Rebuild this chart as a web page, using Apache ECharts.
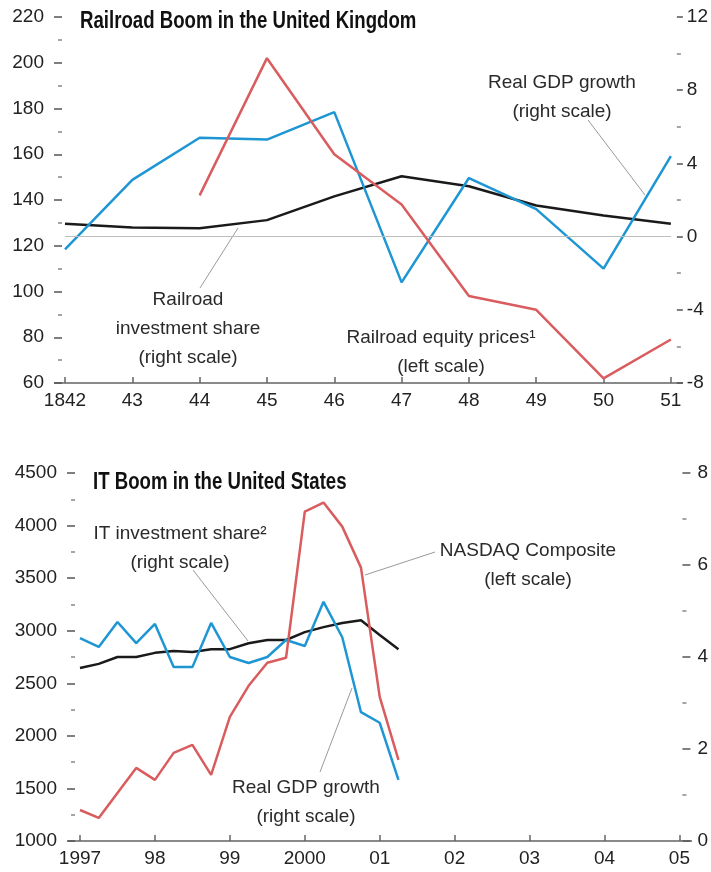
<!DOCTYPE html>
<html>
<head>
<meta charset="utf-8">
<script src="https://cdn.jsdelivr.net/npm/echarts@6/dist/echarts.min.js"></script>
<style>
html,body{margin:0;padding:0;background:#fff;}
#c{width:711px;height:872px;}
</style>
</head>
<body>
<div id="c"></div>
<script>
// ---- Top panel: Railroad boom in the UK ----
var railYears = [1842, 1843, 1844, 1845, 1846, 1847, 1848, 1849, 1850, 1851];
var railEquity = [null, null, 142, 202, 160, 138, 98, 92, 62, 79];         // left scale
var railInvestShare = [0.7, 0.5, 0.45, 0.9, 2.2, 3.3, 2.75, 1.7, 1.15, 0.7]; // right scale
var railGdp = [-0.7, 3.1, 5.4, 5.3, 6.8, -2.5, 3.2, 1.5, -1.75, 4.4];      // right scale

// ---- Bottom panel: IT boom in the US (quarterly) ----
var itQuarters = ['1997Q1','1997Q2','1997Q3','1997Q4','1998Q1','1998Q2','1998Q3','1998Q4',
                  '1999Q1','1999Q2','1999Q3','1999Q4','2000Q1','2000Q2','2000Q3','2000Q4',
                  '2001Q1','2001Q2'];
var nasdaq = [1295, 1219, 1457, 1695, 1581, 1838, 1914, 1629, 2181, 2476, 2695, 2743,
              4133, 4219, 3990, 3600, 2371, 1771];                                  // left scale
var itShare = [3.76, 3.85, 4.0, 4.0, 4.09, 4.13, 4.11, 4.17, 4.17, 4.30, 4.37, 4.37,
               4.54, 4.65, 4.74, 4.80, 4.48, 4.17];                                 // right scale
var usGdp = [4.41, 4.22, 4.76, 4.30, 4.72, 3.78, 3.78, 4.74, 4.0, 3.87, 4.0, 4.37,
             4.24, 5.2, 4.43, 2.8, 2.57, 1.33];                                     // right scale

// tick label lists
var topXLabels = {1842:'1842',1843:'43',1844:'44',1845:'45',1846:'46',1847:'47',1848:'48',1849:'49',1850:'50',1851:'51'};
var botXLabels = {1997:'1997',1998:'98',1999:'99',2000:'2000',2001:'01',2002:'02',2003:'03',2004:'04',2005:'05'};

function pairs(xs, ys){ return xs.map(function(x,i){ return [x, ys[i]]; }); }
function qToX(q){ return parseInt(q.slice(0,4),10) + (parseInt(q.slice(5),10)-1)/4; }
var itX = itQuarters.map(qToX);

var FONT = "'Liberation Sans', Arial, sans-serif";
var BLUE = '#1e96d4', RED = '#d95c5e', BLACK = '#1a1a1a';
function plain(v){ return String(v); }

function yAx(opt, labelMargin){
  return Object.assign({
    type:'value', axisLine:{show:false, onZero:false}, splitLine:{show:false},
    axisTick:{show:true, length:8, lineStyle:{color:'#555', width:1.5}},
    minorTick:{show:true, splitNumber:2, length:4, lineStyle:{color:'#888', width:1.5}},
    axisLabel:{color:'#222', fontSize:19, fontFamily:FONT, margin:labelMargin, formatter:plain}
  }, opt);
}
function xAx(opt, labels){
  return Object.assign({
    type:'value', interval:1, splitLine:{show:false},
    axisLine:{show:true, onZero:false, lineStyle:{color:'#8a8a8a', width:2}},
    axisTick:{show:true, inside:true, length:6, lineStyle:{color:'#666', width:1.5}},
    axisLabel:{color:'#222', fontSize:19, fontFamily:FONT, margin:8,
      formatter:function(v){ return labels[v] !== undefined ? labels[v] : ''; }}
  }, opt);
}

var chart = echarts.init(document.getElementById('c'), null, {renderer:'canvas'});
var annoStyle = {fill:'#2a2a2a', font:'19px ' + FONT, textAlign:'center', textVerticalAlign:'middle', lineHeight:29};
function anno(text, x, y){ return {type:'text', silent:true, style:Object.assign({text:text, x:x, y:y}, annoStyle)}; }
function leader(x1,y1,x2,y2){ return {type:'line', silent:true, shape:{x1:x1,y1:y1,x2:x2,y2:y2}, style:{stroke:'#9a9a9a', lineWidth:1}}; }
function axisExt(x1,x2,y){ return {type:'line', silent:true, z:-1, shape:{x1:x1,y1:y,x2:x2,y2:y}, style:{stroke:'#8a8a8a', lineWidth:2}}; }
function titleText(text, x, y){
  return {type:'text', silent:true, x:x, y:y, scaleX:0.81, scaleY:1,
    style:{text:text, x:0, y:0, textVerticalAlign:'middle', fill:'#111', font:"bold 23px 'Liberation Sans', Arial, sans-serif"}};
}

chart.setOption({
  animation:false,
  backgroundColor:'#fff',
  grid:[
    {left:65, top:17, width:607, height:366},
    {left:80, top:473, width:602, height:368}
  ],
  xAxis:[
    xAx({gridIndex:0, min:1842, max:1851}, topXLabels),
    xAx({gridIndex:1, min:1997, max:2005}, botXLabels)
  ],
  yAxis:[
    yAx({gridIndex:0, position:'left', min:60, max:220, interval:20, offset:3}, 18),
    yAx({gridIndex:0, position:'right', min:-8, max:12, interval:4, offset:6,
         axisTick:{show:true,length:6,lineStyle:{color:'#555',width:1.5}}}, 10),
    yAx({gridIndex:1, position:'left', min:1000, max:4500, interval:500, offset:5}, 18),
    yAx({gridIndex:1, position:'right', min:0, max:8, interval:2, offset:3}, 15)
  ],
  series:[
    {name:'Railroad investment share', type:'line', xAxisIndex:0, yAxisIndex:1, symbol:'none',
     data:pairs(railYears, railInvestShare), lineStyle:{color:BLACK, width:2.5}, z:3,
     markLine:{silent:true, symbol:'none', label:{show:false}, lineStyle:{color:'#bdbdbd', width:1, type:'solid'}, data:[{yAxis:0}]}},
    {name:'Real GDP growth (UK)', type:'line', xAxisIndex:0, yAxisIndex:1, symbol:'none',
     data:pairs(railYears, railGdp), lineStyle:{color:BLUE, width:2.5}, z:4},
    {name:'Railroad equity prices', type:'line', xAxisIndex:0, yAxisIndex:0, symbol:'none',
     data:pairs(railYears, railEquity), lineStyle:{color:RED, width:2.5}, z:5},

    {name:'IT investment share', type:'line', xAxisIndex:1, yAxisIndex:3, symbol:'none',
     data:pairs(itX, itShare), lineStyle:{color:BLACK, width:2.5}, z:3},
    {name:'Real GDP growth (US)', type:'line', xAxisIndex:1, yAxisIndex:3, symbol:'none',
     data:pairs(itX, usGdp), lineStyle:{color:BLUE, width:2.5}, z:4},
    {name:'NASDAQ Composite', type:'line', xAxisIndex:1, yAxisIndex:2, symbol:'none',
     data:pairs(itX, nasdaq), lineStyle:{color:RED, width:2.5}, z:5}
  ],
  graphic:[
    axisExt(54, 683, 383),
    axisExt(68, 692, 841),
    titleText('Railroad Boom in the United Kingdom', 80, 22),
    titleText('IT Boom in the United States', 93, 483),
    anno('Real GDP growth\n(right scale)', 562, 97),
    leader(588, 120, 645, 195),
    anno('Railroad\ninvestment share\n(right scale)', 188, 329),
    leader(200, 288, 238, 228),
    anno('Railroad equity prices\u00B9\n(left scale)', 441, 352),
    anno('IT investment share\u00B2\n(right scale)', 180, 548),
    leader(193, 570, 248, 641),
    anno('NASDAQ Composite\n(left scale)', 528, 565),
    leader(365, 575, 435, 552),
    anno('Real GDP growth\n(right scale)', 306, 802),
    leader(320, 772, 352, 688)
  ]
});
</script>
</body>
</html>
